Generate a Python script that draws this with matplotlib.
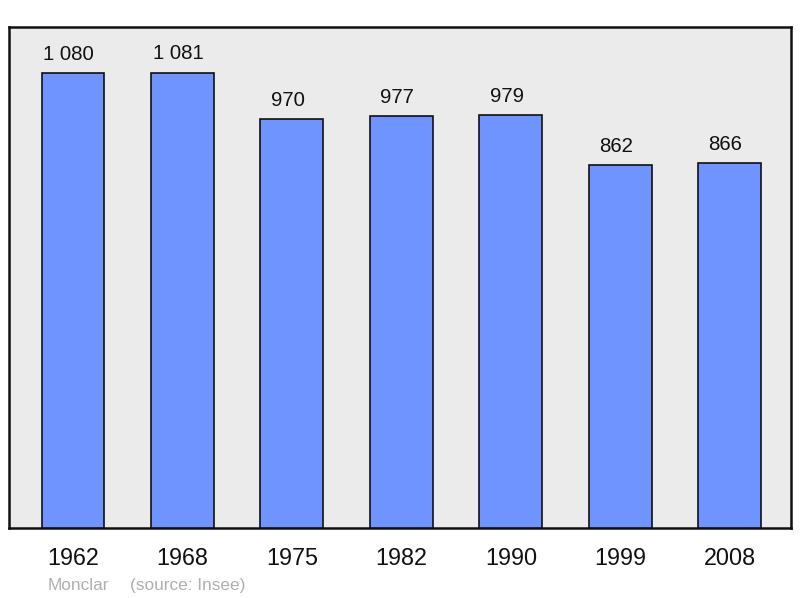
import matplotlib
matplotlib.use("Agg")
import matplotlib.pyplot as plt

years = ["1962", "1968", "1975", "1982", "1990", "1999", "2008"]
population = [1080, 1081, 970, 977, 979, 862, 866]
value_labels = ["1 080", "1 081", "970", "977", "979", "862", "866"]
commune = "Monclar"
source = "(source: Insee)"

plt.rcParams['font.family'] = ['Liberation Sans', 'DejaVu Sans']

fig = plt.figure(figsize=(8, 5.98), dpi=100)
ax = fig.add_axes([9/800, 70/598, 782/800, 501/598])
ax.set_facecolor('#ebebeb')

x = list(range(len(years)))
ax.bar(x, population, width=0.575, color='#7094ff', edgecolor='#111111', linewidth=1.2, zorder=3)

for xi, v, lab in zip(x, population, value_labels):
    ax.annotate(lab, (xi, v), xytext=(-3, 9.5), textcoords='offset points',
                ha='center', va='baseline', fontsize=14.7, color='#111111')

ax.set_xlim(-0.585, 6.56)
ax.set_ylim(0, 1189)
ax.set_xticks(x)
ax.set_xticklabels(years, fontsize=16.8, color='#111111')
ax.tick_params(axis='x', length=0, pad=14)
ax.set_yticks([])
for s in ax.spines.values():
    s.set_linewidth(1.8)
    s.set_color('#111111')

fig.text(48/800, 1 - 590/598, commune, fontsize=12.4, color='#b0b0b0', va='baseline')
fig.text(130/800, 1 - 590/598, source, fontsize=12.4, color='#b0b0b0', va='baseline')

fig.savefig('out.png', dpi=100)
